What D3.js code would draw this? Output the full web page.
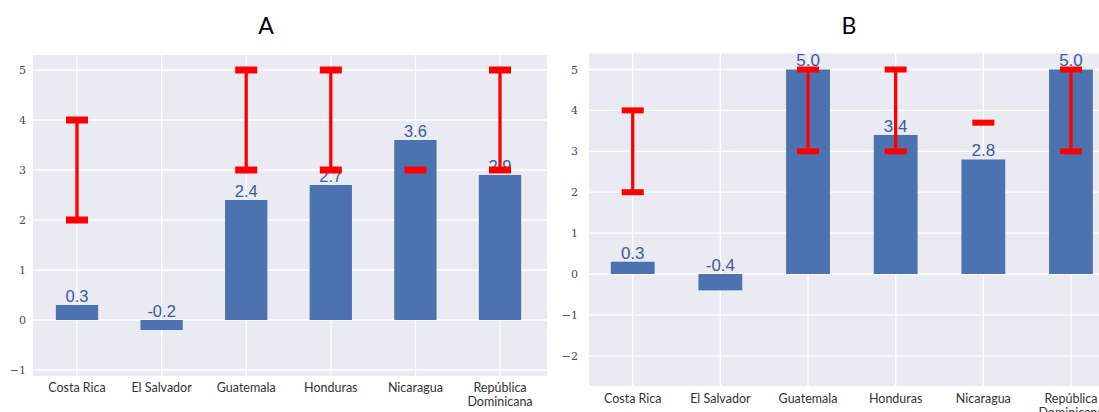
<!DOCTYPE html>
<html>
<head>
<meta charset="utf-8">
<script src="https://cdn.jsdelivr.net/npm/d3@7"></script>
<style>
  html, body { margin: 0; padding: 0; background: #ffffff; }
  svg { display: block; }
</style>
</head>
<body>
<svg id="chart" width="1099" height="412"></svg>
<script>
// Country categories shared by both panels
const categories = ["Costa Rica", "El Salvador", "Guatemala", "Honduras", "Nicaragua", "República Dominicana"];

// Panel A: bar values and target ranges (low, high)
const valuesA = [0.3, -0.2, 2.4, 2.7, 3.6, 2.9];
const rangeLowA = [2, null, 3, 3, 3, 3];
const rangeHighA = [4, null, 5, 5, 3, 5];
const ticksA = [-1, 0, 1, 2, 3, 4, 5];

// Panel B: bar values and target ranges (low, high)
const valuesB = [0.3, -0.4, 5.0, 3.4, 2.8, 5.0];
const rangeLowB = [2, null, 3, 3, 3.7, 3];
const rangeHighB = [4, null, 5, 5, 3.7, 5];
const ticksB = [-2, -1, 0, 1, 2, 3, 4, 5];

const titles = ["A", "B"];

const svg = d3.select("#chart");

const BAR = "#4c72b0";
const LABEL = "#3b5c9e";
const ERR = "#ff0000";
const BG = "#eaeaf2";

function drawPanel(opt) {
  const g = svg.append("g");

  const x = d3.scaleBand().domain(categories).range(opt.xRange).padding(0);
  const y = d3.scaleLinear().domain(opt.yDomain).range([opt.bottom, opt.top]);
  const cx = c => x(c) + x.bandwidth() / 2;

  // plot background
  g.append("rect")
    .attr("x", opt.left).attr("y", opt.top)
    .attr("width", opt.right - opt.left).attr("height", opt.bottom - opt.top)
    .attr("fill", BG);

  // grid lines
  g.selectAll(".hgrid").data(opt.ticks).join("line")
    .attr("x1", opt.left).attr("x2", opt.right)
    .attr("y1", d => y(d)).attr("y2", d => y(d))
    .attr("stroke", "#ffffff").attr("stroke-width", 1.3);
  g.selectAll(".vgrid").data(categories).join("line")
    .attr("x1", d => cx(d)).attr("x2", d => cx(d))
    .attr("y1", opt.top).attr("y2", opt.bottom)
    .attr("stroke", "#ffffff").attr("stroke-width", 1.3);

  // y axis tick labels
  const yAxis = d3.axisLeft(y).tickValues(opt.ticks).tickSize(0).tickPadding(0)
    .tickFormat(d => d < 0 ? "\u2212" + Math.abs(d) : String(d));
  const ya = g.append("g").attr("transform", `translate(${opt.tickX},0)`).call(yAxis);
  ya.select(".domain").remove();
  ya.selectAll("text")
    .attr("font-family", "'DejaVu Serif', 'Liberation Serif', serif")
    .attr("font-size", 11).attr("fill", "#4a4a4a");

  // x axis category labels (the long name wraps onto two lines)
  const xAxis = d3.axisBottom(x).tickSize(0).tickPadding(0);
  const xa = g.append("g").attr("transform", `translate(0,${opt.labelY})`).call(xAxis);
  xa.select(".domain").remove();
  xa.selectAll("text")
    .attr("font-family", "Lato, 'Open Sans', sans-serif")
    .attr("font-size", opt.catSize).attr("fill", "#333333")
    .attr("dy", 0)
    .each(function(d) {
      const t = d3.select(this);
      t.text(null);
      const parts = d === "República Dominicana" ? ["República", "Dominicana"] : [d];
      parts.forEach((p, i) => {
        t.append("tspan").attr("x", 0).attr("dy", i === 0 ? "0.35em" : "1.05em").text(p);
      });
    });

  // bars
  const data = categories.map((c, i) => ({ c, v: opt.values[i], lo: opt.lows[i], hi: opt.highs[i] }));
  const bw = x.bandwidth() * 0.5;
  g.selectAll(".bar").data(data).join("rect")
    .attr("x", d => cx(d.c) - bw / 2)
    .attr("width", bw)
    .attr("y", d => y(Math.max(0, d.v)))
    .attr("height", d => Math.abs(y(d.v) - y(0)))
    .attr("fill", BAR);

  // value labels
  g.selectAll(".vlabel").data(data).join("text")
    .attr("x", d => cx(d.c))
    .attr("y", d => y(Math.max(0, d.v)) - 3)
    .attr("text-anchor", "middle")
    .attr("font-family", "'Liberation Sans', Arial, sans-serif")
    .attr("font-size", opt.valSize)
    .attr("fill", LABEL)
    .text(d => d.v.toFixed(1));

  // target ranges: vertical line with caps
  const ed = data.filter(d => d.lo !== null);
  g.selectAll(".eline").data(ed.filter(d => d.hi !== d.lo)).join("line")
    .attr("x1", d => cx(d.c)).attr("x2", d => cx(d.c))
    .attr("y1", d => y(d.lo)).attr("y2", d => y(d.hi))
    .attr("stroke", ERR).attr("stroke-width", 3.3);
  const caps = [];
  ed.forEach(d => { caps.push({ c: d.c, v: d.lo }); if (d.hi !== d.lo) caps.push({ c: d.c, v: d.hi }); });
  g.selectAll(".cap").data(caps).join("rect")
    .attr("x", d => cx(d.c) - 11)
    .attr("width", 22)
    .attr("y", d => y(d.v) - opt.capH / 2)
    .attr("height", opt.capH)
    .attr("fill", ERR);

  // panel title
  svg.append("text")
    .attr("x", opt.titleX).attr("y", 34)
    .attr("text-anchor", "middle")
    .attr("font-family", "Lato, 'Open Sans', sans-serif")
    .attr("font-size", 23).attr("fill", "#000000")
    .text(opt.title);
}

drawPanel({
  title: titles[0], titleX: 266,
  left: 33, right: 547, top: 55, bottom: 376,
  xRange: [34.7, 542.3], yDomain: [-1.12, 5.3],
  ticks: ticksA, tickX: 26, labelY: 388, catSize: 12.5, valSize: 16.5, capH: 7,
  values: valuesA, lows: rangeLowA, highs: rangeHighA
});

drawPanel({
  title: titles[1], titleX: 849,
  left: 589, right: 1115, top: 53.3, bottom: 386,
  xRange: [588.9, 1114.8], yDomain: [-2.738, 5.396],
  ticks: ticksB, tickX: 578, labelY: 399, catSize: 12.5, valSize: 17, capH: 6,
  values: valuesB, lows: rangeLowB, highs: rangeHighB
});
</script>
</body>
</html>
